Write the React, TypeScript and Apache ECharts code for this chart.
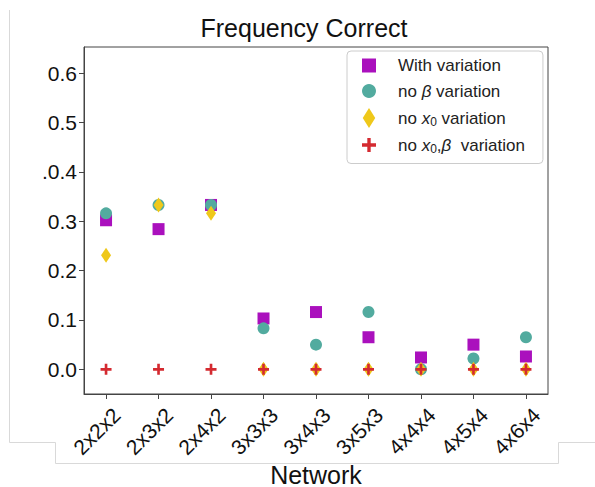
import React, { useEffect, useRef } from "react";
import * as echarts from "echarts";

const categories = ["2x2x2", "2x3x2", "2x4x2", "3x3x3", "3x4x3", "3x5x3", "4x4x4", "4x5x4", "4x6x4"];
const withVariation = [0.302, 0.284, 0.333, 0.103, 0.116, 0.065, 0.024, 0.05, 0.026];
const noBeta = [0.316, 0.333, 0.333, 0.083, 0.05, 0.116, 0.0, 0.022, 0.065];
const noX0 = [0.231, 0.333, 0.316, 0, 0, 0, 0, 0, 0];
const noX0Beta = [0, 0, 0, 0, 0, 0, 0, 0, 0];
const yTicks = [0, 0.1, 0.2, 0.3, 0.4, 0.5, 0.6];
const yTickLabels = ["0.0", "0.1", "0.2", "0.3", ".0.4", "0.5", "0.6"];
const seriesNames = ["With variation", "no β variation", "no x0 variation", "no x0,β  variation"];

const PLUS = "path://M3.8,0H6.2V3.8H10V6.2H6.2V10H3.8V6.2H0V3.8H3.8Z";
const SQUARE = "path://M0,0H10V10H0Z";
const DIAMOND = "path://M5,0L10,8L5,16L0,8Z";

const COLORS = ["#aa10bd", "#52ab9f", "#efc81a", "#d42a30"];
const FONT = "Liberation Sans, Arial, sans-serif";

const toPoints = (arr: number[]) => arr.map((v, i) => [i, v]);

export default function App() {
  const ref = useRef<HTMLDivElement>(null);
  useEffect(() => {
    if (!ref.current) return;
    const chart = echarts.init(ref.current, null, { renderer: "svg" });
    const richFmt: Record<string, string> = {
      "With variation": "{t|With variation}",
      "no β variation": "{t|no }{i|β}{t| variation}",
      "no x0 variation": "{t|no }{i|x}{s|0}{t| variation}",
      "no x0,β  variation": "{t|no }{i|x}{s|0}{t|,}{i|β}{t|  variation}",
    };
    const txt = { fontFamily: FONT, fontSize: 17, color: "#222" };
    chart.setOption({
      animation: false,
      backgroundColor: "#fff",
      title: {
        text: "Frequency Correct",
        left: 304,
        top: 15,
        textAlign: "center",
        padding: 0,
        textStyle: { fontFamily: FONT, fontSize: 25, fontWeight: "normal", color: "#111" },
      },
      graphic: [
        {
          type: "polyline",
          silent: true,
          shape: { points: [[9.5, 10], [9.5, 442.5], [55.5, 442.5], [55.5, 463.5], [558.5, 463.5], [558.5, 442.5], [595, 442.5]] },
          style: { stroke: "#d9d9d9", lineWidth: 1, fill: null },
        },
      ],
      legend: {
        orient: "vertical",
        left: 347,
        top: 51,
        padding: [6, 18, 9, 15],
        itemWidth: 14,
        itemHeight: 20,
        itemGap: 8.5,
        symbolKeepAspect: true,
        selectedMode: false,
        backgroundColor: "#fff",
        borderColor: "#cccccc",
        borderWidth: 1,
        borderRadius: 4,
        data: [
          { name: seriesNames[0], icon: SQUARE },
          { name: seriesNames[1], icon: "circle" },
          { name: seriesNames[2], icon: DIAMOND },
          { name: seriesNames[3], icon: PLUS },
        ],
        formatter: (name: string) => richFmt[name] || name,
        textStyle: {
          ...txt,
          padding: [0, 0, 0, 17],
          rich: {
            t: { ...txt },
            i: { ...txt, fontStyle: "italic" },
            s: { ...txt, fontSize: 12, padding: [7, 0, 0, 0] },
          },
        },
      },
      grid: {
        left: 84,
        right: 47,
        top: 47,
        bottom: 93,
        show: true,
        borderColor: "#444",
        borderWidth: 1,
        backgroundColor: "#fff",
        outerBoundsMode: "none",
        containLabel: false,
      },
      xAxis: {
        type: "value",
        min: -0.42,
        max: 8.42,
        name: "Network",
        nameLocation: "middle",
        nameGap: 68,
        nameMoveOverlap: false,
        nameTextStyle: { fontFamily: FONT, fontSize: 25, color: "#111", lineHeight: 25 },
        axisLine: { show: true, onZero: false, lineStyle: { color: "#444" } },
        splitLine: { show: false },
        axisTick: {
          show: true,
          length: 5,
          lineStyle: { color: "#444" },
          customValues: categories.map((_, i) => i),
        },
        axisLabel: {
          rotate: 45,
          fontFamily: FONT,
          fontSize: 21,
          color: "#111",
          margin: 28,
          align: "center",
          verticalAlign: "middle",
          padding: [0, 26, 0, 0],
          customValues: categories.map((_, i) => i),
          formatter: (v: number) => categories[Math.round(v)] ?? "",
        },
      },
      yAxis: {
        type: "value",
        min: -0.05,
        max: 0.653,
        axisLine: { show: true, onZero: false, lineStyle: { color: "#444" } },
        splitLine: { show: false },
        axisTick: { show: true, length: 5, lineStyle: { color: "#444" }, customValues: yTicks },
        axisLabel: {
          fontFamily: FONT,
          fontSize: 21,
          color: "#111",
          margin: 7,
          customValues: yTicks,
          formatter: (v: number) => yTickLabels[Math.round(v * 10)] ?? "",
        },
      },
      series: [
        {
          name: seriesNames[0],
          type: "scatter",
          symbol: SQUARE,
          symbolSize: 12,
          itemStyle: { color: COLORS[0], opacity: 1 },
          data: toPoints(withVariation),
        },
        {
          name: seriesNames[1],
          type: "scatter",
          symbol: "circle",
          symbolSize: 12,
          itemStyle: { color: COLORS[1], opacity: 1 },
          data: toPoints(noBeta),
        },
        {
          name: seriesNames[2],
          type: "scatter",
          symbol: DIAMOND,
          symbolSize: [10, 15],
          itemStyle: { color: COLORS[2], opacity: 1 },
          data: toPoints(noX0),
        },
        {
          name: seriesNames[3],
          type: "scatter",
          symbol: PLUS,
          symbolSize: 11,
          itemStyle: { color: COLORS[3], opacity: 1 },
          data: toPoints(noX0Beta),
        },
      ],
    });
    return () => chart.dispose();
  }, []);
  return <div ref={ref} style={{ position: "fixed", left: 0, top: 0, width: 595, height: 487 }} />;
}
